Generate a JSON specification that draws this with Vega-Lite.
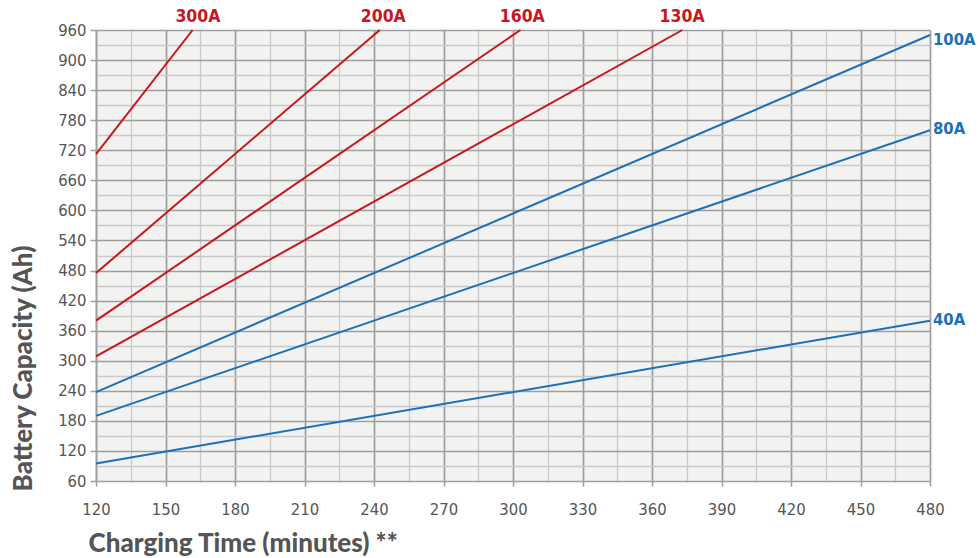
{
  "$schema": "https://vega.github.io/schema/vega-lite/v6.json",
  "width": 834,
  "height": 451,
  "autosize": {"type": "none"},
  "padding": {"left": 96, "top": 30, "right": 48, "bottom": 77},
  "background": "white",
  "config": {
    "view": {"fill": "#f2f2f0", "stroke": null},
    "font": "DejaVu Sans Condensed, DejaVu Sans, sans-serif"
  },
  "datasets": {
    "lines": [
      {"series": "300A", "t": 120, "cap": 712.5},
      {"series": "300A", "t": 161.7, "cap": 960},
      {"series": "200A", "t": 120, "cap": 475},
      {"series": "200A", "t": 242.5, "cap": 960},
      {"series": "160A", "t": 120, "cap": 380},
      {"series": "160A", "t": 303.2, "cap": 960},
      {"series": "130A", "t": 120, "cap": 308.75},
      {"series": "130A", "t": 373.1, "cap": 960},
      {"series": "100A", "t": 120, "cap": 237.5},
      {"series": "100A", "t": 480, "cap": 950},
      {"series": "80A", "t": 120, "cap": 190},
      {"series": "80A", "t": 480, "cap": 760},
      {"series": "40A", "t": 120, "cap": 95},
      {"series": "40A", "t": 480, "cap": 380}
    ],
    "toplabels": [
      {"series": "300A", "t": 164, "cap": 960},
      {"series": "200A", "t": 244, "cap": 960},
      {"series": "160A", "t": 304, "cap": 960},
      {"series": "130A", "t": 373, "cap": 960}
    ],
    "rightlabels": [
      {"series": "100A", "t": 480, "cap": 940},
      {"series": "80A", "t": 480, "cap": 762},
      {"series": "40A", "t": 480, "cap": 382}
    ]
  },
  "resolve": {"axis": {"x": "independent", "y": "independent"}},
  "layer": [
    {
      "data": {"name": "lines"},
      "mark": {"type": "line", "strokeWidth": 2},
      "encoding": {
        "x": {
          "field": "t", "type": "quantitative",
          "scale": {"domain": [120, 480], "nice": false, "zero": false},
          "axis": {
            "orient": "bottom",
            "values": [135, 165, 195, 225, 255, 285, 315, 345, 375, 405, 435, 465],
            "grid": true, "gridColor": "#c9c9c9", "gridWidth": 1.3,
            "labels": false, "ticks": false, "domain": false, "title": null
          }
        },
        "y": {
          "field": "cap", "type": "quantitative",
          "scale": {"domain": [60, 960], "nice": false, "zero": false},
          "axis": {
            "orient": "left",
            "values": [90, 150, 210, 270, 330, 390, 450, 510, 570, 630, 690, 750, 810, 870, 930],
            "grid": true, "gridColor": "#c9c9c9", "gridWidth": 1.3,
            "labels": false, "ticks": false, "domain": false, "title": null
          }
        },
        "color": {
          "field": "series", "type": "nominal",
          "scale": {
            "domain": ["300A", "200A", "160A", "130A", "100A", "80A", "40A"],
            "range": ["#c8161e", "#c8161e", "#c8161e", "#c8161e", "#1c70b8", "#1c70b8", "#1c70b8"]
          },
          "legend": null
        },
        "detail": {"field": "series"}
      }
    },
    {
      "data": {"name": "toplabels"},
      "mark": {"type": "text", "font": "DejaVu Sans Condensed, DejaVu Sans, sans-serif", "fontWeight": "bold", "fontSize": 17.5, "baseline": "middle", "align": "center", "dy": -13},
      "encoding": {
        "x": {
          "field": "t", "type": "quantitative",
          "axis": {
            "orient": "bottom",
            "values": [120, 150, 180, 210, 240, 270, 300, 330, 360, 390, 420, 450, 480],
            "grid": true, "gridColor": "#9e9e9e", "gridWidth": 1.7,
            "ticks": true, "tickColor": "#9e9e9e", "tickSize": 5, "tickWidth": 1.5,
            "domain": false, "labelFlush": false,
            "labelFont": "DejaVu Sans Condensed, DejaVu Sans, sans-serif", "labelFontSize": 16.5, "labelColor": "#555555", "labelPadding": 15,
            "title": "Charging Time (minutes) **",
            "titleFont": "Lato", "titleFontSize": 26, "titleFontWeight": 900, "titleColor": "#555555",
            "titleAnchor": "start", "titleAlign": "left", "titleBaseline": "alphabetic",
            "titleX": -8, "titleY": 70
          }
        },
        "y": {
          "field": "cap", "type": "quantitative",
          "axis": {
            "orient": "left",
            "values": [60, 120, 180, 240, 300, 360, 420, 480, 540, 600, 660, 720, 780, 840, 900, 960],
            "grid": true, "gridColor": "#9e9e9e", "gridWidth": 1.7,
            "ticks": true, "tickColor": "#9e9e9e", "tickSize": 6, "tickWidth": 1.5,
            "domain": true, "domainColor": "#9e9e9e", "domainWidth": 1.5, "labelFlush": false,
            "labelFont": "DejaVu Sans Condensed, DejaVu Sans, sans-serif", "labelFontSize": 16.5, "labelColor": "#555555", "labelPadding": 4,
            "title": "Battery Capacity (Ah)",
            "titleFont": "Lato", "titleFontSize": 26, "titleFontWeight": 900, "titleColor": "#555555",
            "titleAngle": -90, "titleAlign": "center", "titleBaseline": "middle",
            "titleX": -73, "titleY": 338
          }
        },
        "text": {"field": "series"},
        "color": {"field": "series", "type": "nominal", "legend": null}
      }
    },
    {
      "data": {"name": "rightlabels"},
      "mark": {"type": "text", "font": "DejaVu Sans Condensed, DejaVu Sans, sans-serif", "fontWeight": "bold", "fontSize": 16.5, "baseline": "middle", "align": "left", "dx": 3},
      "encoding": {
        "x": {"field": "t", "type": "quantitative", "axis": null},
        "y": {"field": "cap", "type": "quantitative", "axis": null},
        "text": {"field": "series"},
        "color": {"field": "series", "type": "nominal", "legend": null}
      }
    }
  ]
}
